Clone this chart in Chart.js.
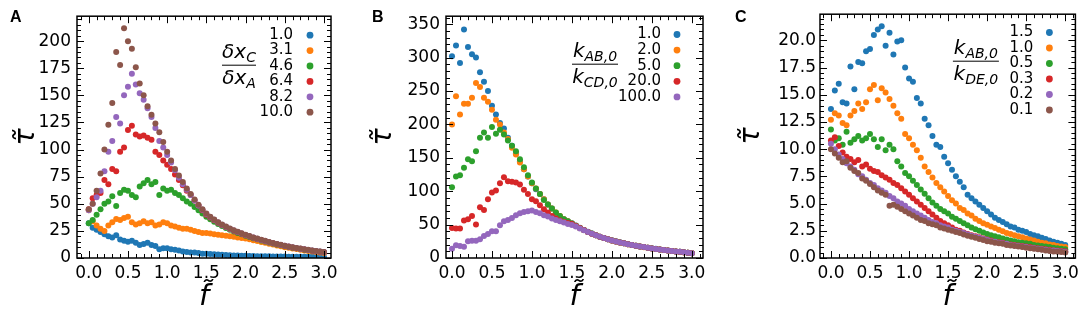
<!DOCTYPE html>
<html>
<head>
<meta charset="utf-8">
<script src="https://cdn.jsdelivr.net/npm/chart.js@4.4.0/dist/chart.umd.min.js"></script>
<style>
  body { margin: 0; background: #fff; width: 1084px; height: 315px; overflow: hidden; position: relative; }
  canvas { position: absolute; top: 0; }
</style>
</head>
<body>
<canvas id="panelA" width="350" height="315" style="left:0px"></canvas>
<canvas id="panelB" width="360" height="315" style="left:360px"></canvas>
<canvas id="panelC" width="364" height="315" style="left:720px"></canvas>
<script>
// shared x values (f tilde)
const fValues = [0.0, 0.05, 0.1, 0.15, 0.2, 0.25, 0.3, 0.35, 0.4, 0.45,
  0.5, 0.55, 0.6, 0.65, 0.7, 0.75, 0.8, 0.85, 0.9, 0.95,
  1.0, 1.05, 1.1, 1.15, 1.2, 1.25, 1.3, 1.35, 1.4, 1.45,
  1.5, 1.55, 1.6, 1.65, 1.7, 1.75, 1.8, 1.85, 1.9, 1.95,
  2.0, 2.05, 2.1, 2.15, 2.2, 2.25, 2.3, 2.35, 2.4, 2.45,
  2.5, 2.55, 2.6, 2.65, 2.7, 2.75, 2.8, 2.85, 2.9, 2.95, 3.0];

const colors = ["#1f77b4", "#ff7f0e", "#2ca02c", "#d62728", "#9467bd", "#8c564b"];

// panel A: dxC/dxA
const labelsA = ["1.0", "3.1", "4.6", "6.4", "8.2", "10.0"];
const tauA_1_0 = [32, 28, 26, 24, 22, 20, 19, 21, 17, 16, 15, 16, 14, 12, 13, 14, 12, 11, 8, 9,
  9, 8, 7.5, 7, 6, 5.5, 5, 5, 4.5, 4, 4, 3.7, 3.4, 3.2, 3, 2.8, 2.6, 2.4, 2.2, 2.1,
  2, 1.9, 1.8, 1.7, 1.6, 1.55, 1.5, 1.45, 1.4, 1.35, 1.3, 1.25, 1.2, 1.18, 1.15, 1.12, 1.1, 1.07, 1.05, 1.02, 1.0];
const tauA_3_1 = [44, 34, 30, 27, 25, 30, 33, 36, 35, 37, 38, 33, 31, 32, 34, 32, 33, 30, 31, 33,
  32, 30, 29, 28, 27, 27, 26, 25, 24, 23, 23, 22.5, 22, 21.5, 21, 20.5, 20, 19.5, 19, 18.5,
  18, 17.2, 16.4, 15.6, 14.8, 14, 13.2, 12.4, 11.6, 10.8, 10, 9.4, 8.8, 8.2, 7.6, 7, 6.5, 6, 5.5, 5, 4.5];
const tauA_4_6 = [32, 35, 40, 45, 50, 52, 57, 48, 60, 63, 62, 58, 56, 66, 69, 72, 68, 70, 58, 64,
  62, 63, 60, 58, 55, 52, 50, 47, 44, 41, 38, 35.7, 33.5, 31.4, 29.5, 27.7, 26, 24.5, 23.1, 21.8,
  20.6, 19.4, 18.3, 17.2, 16.2, 15.2, 14.3, 13.4, 12.5, 11.7, 10.9, 10.2, 9.5, 8.9, 8.3, 7.7, 7.2, 6.7, 6.2, 5.7, 5.3];
const tauA_6_4 = [45, 55, 58, 60, 72, 68, 82, 80, 98, 102, 118, 122, 114, 112, 113, 111, 109, 98, 95, 90,
  86, 82, 77, 72, 67, 62, 58, 53, 48.5, 44, 40, 37.3, 34.8, 32.5, 30.4, 28.5, 26.8, 25.2, 23.7, 22.3,
  21, 19.8, 18.6, 17.5, 16.5, 15.5, 14.5, 13.6, 12.7, 11.9, 11.1, 10.4, 9.7, 9.1, 8.5, 7.9, 7.3, 6.8, 6.3, 5.8, 5.4];
const tauA_8_2 = [44, 50, 56, 62, 80, 98, 108, 130, 124, 150, 158, 170, 160, 152, 146, 138, 130, 120, 108, 102,
  95, 88, 81, 74, 68, 63, 58, 53, 48.5, 44.5, 40.5, 37.8, 35.2, 32.8, 30.7, 28.8, 27, 25.4, 23.9, 22.5,
  21.2, 20, 18.8, 17.7, 16.6, 15.6, 14.6, 13.7, 12.8, 12, 11.2, 10.5, 9.8, 9.2, 8.6, 8, 7.4, 6.9, 6.4, 5.9, 5.5];
const tauA_10_0 = [45, 50, 62, 78, 100, 123, 143, 190, 178, 212, 200, 193, 176, 161, 150, 140, 132, 124, 116, 107,
  98, 90, 82, 76, 70, 64, 59, 54, 49, 45, 41, 38, 35.5, 33, 31, 29, 27.3, 25.7, 24.2, 22.8,
  21.5, 20.2, 19, 17.9, 16.8, 15.8, 14.8, 13.9, 13, 12.2, 11.4, 10.6, 9.9, 9.3, 8.7, 8.1, 7.5, 7, 6.5, 6, 5.6];

// panel B: kAB0/kCD0
const labelsB = ["1.0", "2.0", "5.0", "20.0", "100.0"];
const tauB_1 = [302, 318, 292, 342, 316, 305, 300, 278, 264, 250, 228, 215, 202, 194, 180, 168, 157, 145, 133, 122,
  112, 103, 96, 88, 80, 74, 67, 62, 58, 55, 52, 48.6, 45.2, 42.1, 39.2, 36.6, 34.1, 32, 30.1, 28.2,
  26.4, 24.9, 23.4, 22.1, 20.8, 19.6, 18.5, 17.4, 16.4, 15.4, 14.5, 13.7, 12.9, 12.1, 11.4, 10.6, 9.9, 9.2, 8.5, 7.8, 7.1];
const tauB_2 = [200, 242, 215, 231, 231, 240, 262, 256, 240, 234, 222, 207, 200, 188, 178, 165, 155, 143, 133, 122,
  112, 104, 96, 88, 80, 74, 68, 63, 58, 55, 51.5, 48.3, 45, 41.9, 39, 36.4, 34, 31.8, 29.9, 28,
  26.2, 24.7, 23.2, 21.9, 20.6, 19.4, 18.3, 17.2, 16.2, 15.2, 14.3, 13.5, 12.7, 12, 11.3, 10.5, 9.8, 9.1, 8.4, 7.7, 7.0];
const tauB_5 = [106, 122, 124, 135, 148, 145, 160, 180, 188, 180, 196, 186, 192, 185, 176, 168, 160, 148, 136, 124,
  113, 104, 96, 87, 80, 74, 68, 63, 58, 55, 51.8, 48.4, 45.1, 42, 39.1, 36.5, 34.1, 31.9, 30, 28.1,
  26.3, 24.8, 23.3, 22, 20.7, 19.5, 18.4, 17.3, 16.3, 15.3, 14.4, 13.6, 12.8, 12, 11.3, 10.6, 9.9, 9.2, 8.5, 7.8, 7.1];
const tauB_20 = [45, 44, 44, 56, 58, 63, 50, 76, 72, 88, 98, 101, 112, 121, 115, 114, 113, 110, 102, 96,
  88, 85, 79, 73, 68, 63, 59, 56, 54, 52.5, 51, 47.8, 44.8, 41.8, 39, 36.4, 34, 31.9, 29.9, 28,
  26.2, 24.6, 23.2, 21.9, 20.6, 19.4, 18.3, 17.3, 16.3, 15.3, 14.4, 13.6, 12.8, 12, 11.3, 10.6, 9.9, 9.2, 8.5, 7.8, 7.1];
const tauB_100 = [14, 19, 18, 17, 25, 26, 26, 28, 33, 36, 40, 40, 49, 55, 57, 60, 64, 67, 69, 70,
  71, 69, 67, 64, 62, 59, 57, 55, 53, 51, 49.5, 47, 44.2, 41.5, 38.8, 36.3, 34, 31.9, 30, 28.1,
  26.3, 24.8, 23.3, 22, 20.7, 19.5, 18.4, 17.3, 16.3, 15.3, 14.4, 13.6, 12.8, 12, 11.3, 10.6, 9.9, 9.2, 8.5, 7.8, 7.0];

// panel C: kAB0/kDE0
const labelsC = ["1.5", "1.0", "0.5", "0.3", "0.2", "0.1"];
const tauC_1_5 = [13.7, 15.4, 16.0, 14.3, 14.2, 17.6, 15.5, 18.0, 17.9, 19.0, 19.2, 20.5, 21.0, 21.3, 19.5, 20.7, 18.7, 19.9, 20.0, 17.5,
  16.5, 16.2, 14.7, 14.2, 12.8, 12.2, 11.2, 10.4, 10.2, 9.3, 8.7, 8.1, 7.5, 7.0, 6.5, 5.8, 5.5, 5.2, 4.9, 4.6,
  4.3, 4.0, 3.7, 3.5, 3.3, 3.1, 2.9, 2.8, 2.6, 2.5, 2.4, 2.2, 2.1, 2.0, 1.85, 1.75, 1.6, 1.5, 1.4, 1.3, 1.2];
const tauC_1_0 = [12.7, 13.3, 13.1, 12.4, 12.2, 13.1, 13.5, 14.2, 13.7, 14.3, 15.5, 15.9, 14.5, 15.6, 15.2, 14.6, 14.0, 13.3, 12.8, 11.4,
  11.0, 10.4, 9.9, 9.2, 8.4, 7.9, 7.4, 6.9, 6.5, 6.1, 5.7, 5.3, 5.0, 4.6, 4.4, 4.1, 3.9, 3.6, 3.4, 3.2,
  3.05, 2.9, 2.75, 2.6, 2.45, 2.3, 2.2, 2.1, 2.0, 1.9, 1.8, 1.7, 1.6, 1.5, 1.4, 1.35, 1.25, 1.2, 1.1, 1.05, 1.0];
const tauC_0_5 = [11.8, 10.8, 11.0, 10.4, 11.6, 10.6, 10.9, 11.2, 10.8, 11.0, 11.4, 10.9, 10.2, 10.9, 9.9, 10.4, 10.0, 8.9, 8.4, 7.8,
  7.5, 7.1, 6.7, 6.3, 5.9, 5.5, 5.1, 4.8, 4.5, 4.3, 4.1, 3.8, 3.6, 3.4, 3.2, 3.0, 2.8, 2.65, 2.5, 2.35,
  2.2, 2.1, 2.0, 1.9, 1.8, 1.7, 1.6, 1.55, 1.45, 1.4, 1.35, 1.3, 1.2, 1.15, 1.1, 1.05, 1.0, 0.95, 0.9, 0.85, 0.8];
const tauC_0_3 = [10.8, 11.1, 10.3, 9.7, 9.3, 9.1, 8.8, 9.0, 8.4, 8.6, 8.2, 8.0, 7.9, 7.6, 7.4, 7.2, 6.9, 6.7, 6.4, 6.1,
  5.8, 5.5, 5.2, 4.9, 4.6, 4.3, 4.0, 3.7, 3.4, 3.2, 3.0, 2.8, 2.6, 2.5, 2.35, 2.2, 2.1, 2.0, 1.9, 1.8,
  1.7, 1.6, 1.5, 1.45, 1.4, 1.3, 1.25, 1.2, 1.15, 1.1, 1.05, 1.0, 0.95, 0.9, 0.85, 0.8, 0.75, 0.72, 0.68, 0.65, 0.62];
const tauC_0_2 = [10.5, 10.0, 9.5, 9.1, 8.7, 8.4, 8.1, 7.7, 7.5, 7.2, 6.9, 6.7, 6.4, 6.2, 6.0, 5.7, 5.5, 5.2, 5.0, 4.8,
  4.5, 4.3, 4.1, 3.9, 3.7, 3.5, 3.3, 3.2, 3.0, 2.9, 2.8, 2.6, 2.5, 2.4, 2.3, 2.15, 2.05, 1.95, 1.85, 1.75,
  1.65, 1.55, 1.5, 1.4, 1.35, 1.3, 1.2, 1.15, 1.1, 1.05, 1.0, 0.95, 0.9, 0.85, 0.8, 0.75, 0.7, 0.68, 0.65, 0.6, 0.55];
const tauC_0_1 = [10.0, 9.6, 9.2, 8.8, 8.9, 8.3, 8.0, 7.8, 7.3, 7.1, 6.8, 6.5, 6.2, 6.0, 5.8, 4.8, 4.9, 4.7, 4.5, 4.3,
  4.1, 3.9, 3.7, 3.5, 3.4, 3.2, 3.1, 3.0, 2.8, 2.7, 2.6, 2.5, 2.4, 2.3, 2.15, 2.05, 1.95, 1.85, 1.75, 1.65,
  1.55, 1.5, 1.4, 1.35, 1.3, 1.2, 1.15, 1.1, 1.05, 1.0, 0.95, 0.9, 0.85, 0.8, 0.75, 0.7, 0.65, 0.6, 0.58, 0.55, 0.5];

Chart.defaults.font.family = '"DejaVu Sans"';
Chart.defaults.color = "#000";

function mathText(ctx, base, sub, cx, y) {
  ctx.font = 'italic 20px "DejaVu Sans"';
  const wb = ctx.measureText(base).width;
  ctx.font = 'italic 14px "DejaVu Sans"';
  const ws = ctx.measureText(sub).width;
  const x0 = cx - (wb + ws) / 2;
  ctx.textAlign = "left";
  ctx.textBaseline = "alphabetic";
  ctx.font = 'italic 20px "DejaVu Sans"';
  ctx.fillText(base, x0, y);
  ctx.font = 'italic 14px "DejaVu Sans"';
  ctx.fillText(sub, x0 + wb, y + 4);
}

// inward ticks on all four sides, frame, panel letter and legend
const panelPlugin = {
  id: "panel",
  afterDraw(chart, args, o) {
    const { ctx, chartArea: a } = chart;
    const xs = chart.scales.x, ys = chart.scales.y;
    ctx.save();
    ctx.strokeStyle = "#000";
    ctx.lineWidth = 1;
    ctx.beginPath();
    for (let k = Math.ceil(xs.min / o.xMinor - 1e-6); k * o.xMinor <= xs.max + 1e-9; k++) {
      const v = k * o.xMinor;
      const major = Math.abs(v / 0.5 - Math.round(v / 0.5)) < 1e-6;
      const len = major ? 7 : 4;
      const p = Math.round(xs.getPixelForValue(v)) + 0.5;
      ctx.moveTo(p, a.bottom); ctx.lineTo(p, a.bottom - len);
      ctx.moveTo(p, a.top); ctx.lineTo(p, a.top + len);
    }
    for (let k = Math.ceil(ys.min / o.yMinor - 1e-6); k * o.yMinor <= ys.max + 1e-9; k++) {
      const v = k * o.yMinor;
      const major = Math.abs(v / o.yMajor - Math.round(v / o.yMajor)) < 1e-6;
      const len = major ? 7 : 4;
      const p = Math.round(ys.getPixelForValue(v)) + 0.5;
      ctx.moveTo(a.left, p); ctx.lineTo(a.left + len, p);
      ctx.moveTo(a.right, p); ctx.lineTo(a.right - len, p);
    }
    ctx.stroke();
    ctx.lineWidth = 1.5;
    ctx.strokeRect(a.left, a.top, a.right - a.left, a.bottom - a.top);

    ctx.fillStyle = "#000";
    ctx.font = 'bold 16px "Liberation Sans"';
    ctx.textAlign = "left";
    ctx.textBaseline = "alphabetic";
    ctx.fillText(o.letter, o.letterX, 22);

    ctx.font = '15px "DejaVu Sans"';
    ctx.textAlign = "right";
    ctx.textBaseline = "middle";
    o.labels.forEach((lab, i) => {
      const yy = a.top + o.rowTop + i * o.rowGap;
      ctx.fillStyle = "#000";
      ctx.fillText(lab, a.right - o.textRight, yy);
      ctx.fillStyle = colors[i];
      ctx.beginPath();
      ctx.arc(a.right - o.markerRight, yy, 3.4, 0, Math.PI * 2);
      ctx.fill();
    });

    ctx.fillStyle = "#000";
    const cx = a.right - o.fracX, by = a.top + o.barY;
    ctx.lineWidth = 1;
    ctx.beginPath();
    ctx.moveTo(cx - o.barHalf, by); ctx.lineTo(cx + o.barHalf, by);
    ctx.stroke();
    mathText(ctx, o.num[0], o.num[1], cx, by - 7);
    mathText(ctx, o.den[0], o.den[1], cx, by + 19);
    ctx.restore();
  }
};

function buildPanel(id, series, cfg) {
  new Chart(document.getElementById(id), {
    type: "scatter",
    data: {
      datasets: series.map((vals, i) => ({
        label: cfg.panel.labels[i],
        data: fValues.map((f, k) => ({ x: f, y: vals[k] })),
        backgroundColor: colors[i],
        borderWidth: 0,
        pointRadius: 3,
        pointHoverRadius: 3,
        order: -i,
      })),
    },
    options: {
      responsive: false,
      animation: false,
      devicePixelRatio: 1,
      layout: { padding: { top: 5, right: cfg.padRight, left: 0, bottom: 0 } },
      plugins: { legend: { display: false }, tooltip: { enabled: false }, panel: cfg.panel },
      scales: {
        x: {
          type: "linear",
          min: cfg.xMin,
          max: cfg.xMax,
          grid: { display: false, drawTicks: false },
          border: { display: false },
          ticks: {
            stepSize: 0.5, includeBounds: false, autoSkip: false, maxRotation: 0,
            padding: 5, font: { size: 17 },
            callback: (v) => v.toFixed(1),
          },
          title: { display: true, text: "f\u0303", font: { size: 29, style: "italic" }, padding: { top: 0, bottom: 0 } },
          afterFit: (s) => { s.height = 57; },
        },
        y: {
          type: "linear",
          min: 0,
          max: cfg.yMax,
          grid: { display: false, drawTicks: false },
          border: { display: false },
          ticks: {
            stepSize: cfg.panel.yMajor, includeBounds: false, autoSkip: false,
            padding: cfg.yPad, font: { size: 17 },
            callback: (v) => (cfg.yDec ? v.toFixed(1) : String(v)),
          },
          title: { display: true, text: "\u03c4\u0303", font: { size: 29, style: "italic" }, padding: { top: cfg.yTitlePad, bottom: 0 } },
          afterFit: (s) => { s.width = cfg.yWidth; },
        },
      },
    },
    plugins: [panelPlugin],
  });
}

buildPanel("panelA", [tauA_1_0, tauA_3_1, tauA_4_6, tauA_6_4, tauA_8_2, tauA_10_0], {
  xMin: -0.15, xMax: 3.09, yMax: 223, yWidth: 77, padRight: 19, yPad: 6, yTitlePad: 9, yDec: false,
  panel: {
    letter: "A", letterX: 10, labels: labelsA, xMinor: 0.1, yMinor: 5, yMajor: 25,
    textRight: 38, markerRight: 21, rowTop: 19, rowGap: 15.4,
    fracX: 92, barY: 49, barHalf: 17, num: ["\u03b4x", "C"], den: ["\u03b4x", "A"],
  },
});

buildPanel("panelB", [tauB_1, tauB_2, tauB_5, tauB_20, tauB_100], {
  xMin: -0.075, xMax: 3.14, yMax: 362, yWidth: 86, padRight: 17, yPad: 6, yTitlePad: 6, yDec: false,
  panel: {
    letter: "B", letterX: 12, labels: labelsB, xMinor: 0.1, yMinor: 10, yMajor: 50,
    textRight: 42, markerRight: 26, rowTop: 18.3, rowGap: 15.6,
    fracX: 108, barY: 48, barHalf: 23, num: ["k", "AB,0"], den: ["k", "CD,0"],
  },
});

buildPanel("panelC", [tauC_1_5, tauC_1_0, tauC_0_5, tauC_0_3, tauC_0_2, tauC_0_1], {
  xMin: -0.14, xMax: 3.13, yMax: 22.4, yWidth: 100, padRight: 6, yPad: 4, yTitlePad: 14, yDec: true,
  panel: {
    letter: "C", letterX: 15, labels: labelsC, xMinor: 0.1, yMinor: 0.5, yMajor: 2.5,
    textRight: 42, markerRight: 26, rowTop: 18.3, rowGap: 15.5,
    fracX: 99.5, barY: 47, barHalf: 23, num: ["k", "AB,0"], den: ["k", "DE,0"],
  },
});
</script>
</body>
</html>
